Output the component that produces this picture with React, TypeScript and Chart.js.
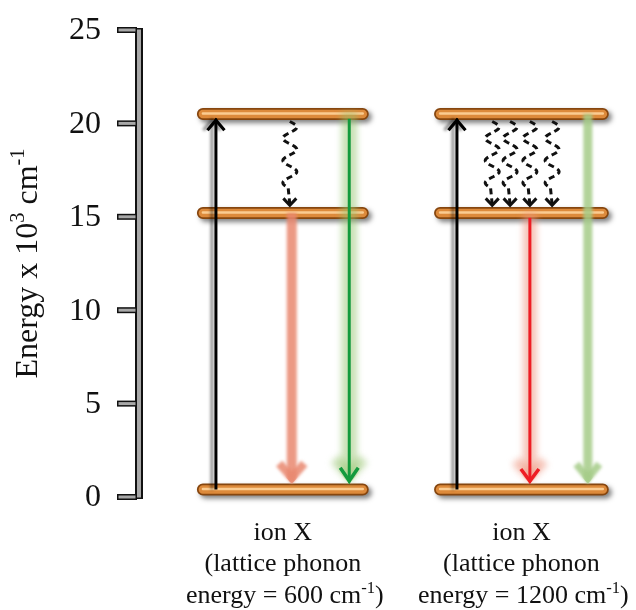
import React, { useEffect, useRef } from "react";
import { Chart, registerables } from "chart.js";

Chart.register(...registerables);

// ---------- data ----------
const energyTicks = [0, 5, 10, 15, 20, 25];
const levelEnergies = [0.4, 15.2, 20.5];
const panelStarts = [1.24, 6.15];
const panelEnds = [4.55, 9.52];
const excitationX = [1.51, 6.5];
const excitationRange = [0.4, 20.3];
const redX = [3.08, 8.01];
const redRange = [15.2, 0.7];
const greenX = [4.27, 9.21];
const greenRange = [20.5, 0.7];
const redBright = [false, true];
const greenBright = [true, false];
const phononX = [[3.04], [7.23, 7.6, 8.01, 8.47]];
const phononRange = [20.1, 15.45];
const ionLabel = "ion X";
const latticeLabel = "(lattice phonon";
const phononEnergies = ["600", "1200"];

const SERIF = '"Liberation Serif", "Times New Roman", serif';

type Part = { t: string; sup?: boolean };

function drawRich(ctx: CanvasRenderingContext2D, parts: Part[], x: number, y: number, size: number) {
  const supSize = size * 0.64;
  const widths = parts.map((p) => {
    ctx.font = `${p.sup ? supSize : size}px ${SERIF}`;
    return ctx.measureText(p.t).width;
  });
  const total = widths.reduce((a, b) => a + b, 0);
  let cx = x - total / 2;
  ctx.textAlign = "left";
  ctx.textBaseline = "alphabetic";
  parts.forEach((p, i) => {
    ctx.font = `${p.sup ? supSize : size}px ${SERIF}`;
    ctx.fillText(p.t, cx, p.sup ? y - size * 0.4 : y);
    cx += widths[i];
  });
}

function levelData() {
  const pts: any[] = [];
  panelStarts.forEach((s, i) => {
    levelEnergies.forEach((e) => {
      pts.push({ x: s, y: e }, { x: panelEnds[i], y: e }, { x: panelEnds[i], y: null });
    });
  });
  return pts;
}

function arrow(x: number, range: number[], opts: any) {
  return {
    type: "line",
    data: [
      { x, y: range[0] },
      { x, y: range[1] },
    ],
    pointRadius: 0,
    pointHitRadius: 0,
    borderCapStyle: "butt",
    clip: false,
    ...opts,
  };
}

const fxPlugin = {
  id: "fx",
  beforeDatasetDraw(chart: any, args: any) {
    const ds = chart.data.datasets[args.index];
    const ctx: CanvasRenderingContext2D = chart.ctx;
    ctx.save();
    if (ds.fxShadow) {
      ctx.shadowColor = ds.fxShadow.color;
      ctx.shadowBlur = ds.fxShadow.blur;
      ctx.shadowOffsetX = ds.fxShadow.dx;
      ctx.shadowOffsetY = ds.fxShadow.dy;
    }
    if (ds.fxBlur) ctx.filter = `blur(${ds.fxBlur}px)`;
    if (ds.fxShiftY) ctx.translate(0, ds.fxShiftY);
    ctx.save();
    if (ds.fxHead) {
      const pts = args.meta.data;
      const a = pts[0];
      const b = pts[pts.length - 1];
      const dx = b.x - a.x;
      const dy = b.y - a.y;
      const len = Math.hypot(dx, dy) || 1;
      const ux = dx / len, uy = dy / len;
      const nx = -uy, ny = ux;
      const t = (ds.fxHead.w / 2) / ds.fxHead.h;
      const L = 3000;
      ctx.beginPath();
      ctx.moveTo(b.x, b.y);
      ctx.lineTo(b.x - ux * L + nx * L * t, b.y - uy * L + ny * L * t);
      ctx.lineTo(b.x - ux * L - nx * L * t, b.y - uy * L - ny * L * t);
      ctx.closePath();
      ctx.clip();
    }
  },
  afterDatasetDraw(chart: any, args: any) {
    const ds = chart.data.datasets[args.index];
    const ctx: CanvasRenderingContext2D = chart.ctx;
    ctx.restore();
    if (ds.fxHead) {
      const pts = args.meta.data;
      const a = pts[0];
      const b = pts[pts.length - 1];
      const dx = b.x - a.x;
      const dy = b.y - a.y;
      const len = Math.hypot(dx, dy) || 1;
      const ux = dx / len, uy = dy / len;
      const nx = -uy, ny = ux;
      const { w, h, lw } = ds.fxHead;
      const half = Math.atan2(w / 2, h);
      const back = lw / 2 / Math.sin(half);
      const vx = b.x - ux * back, vy = b.y - uy * back;
      ctx.beginPath();
      ctx.moveTo(vx - ux * h + nx * (w / 2), vy - uy * h + ny * (w / 2));
      ctx.lineTo(vx, vy);
      ctx.lineTo(vx - ux * h - nx * (w / 2), vy - uy * h - ny * (w / 2));
      ctx.strokeStyle = ds.borderColor;
      ctx.lineWidth = lw;
      ctx.lineJoin = "miter";
      ctx.lineCap = "butt";
      ctx.stroke();
    }
    ctx.restore();
  },
  afterDatasetsDraw(chart: any) {
    const ctx: CanvasRenderingContext2D = chart.ctx;
    const xs = chart.scales.x;
    const ys = chart.scales.y;
    ctx.save();
    ctx.strokeStyle = "#111";
    ctx.lineWidth = 3;
    phononX.forEach((col) =>
      col.forEach((v) => {
        const px = xs.getPixelForValue(v);
        const y0 = ys.getPixelForValue(phononRange[0]);
        const y1 = ys.getPixelForValue(phononRange[1]);
        const waveEnd = y1 - 20;
        const period = (waveEnd - y0) / 3;
        ctx.setLineDash([6, 4]);
        ctx.lineCap = "butt";
        ctx.beginPath();
        for (let yy = y0; yy <= waveEnd; yy += 1) {
          const xx = px + 7 * Math.sin(((yy - y0) / period) * 2 * Math.PI);
          if (yy === y0) ctx.moveTo(xx, yy);
          else ctx.lineTo(xx, yy);
        }
        ctx.lineTo(px, y1 - 4);
        ctx.stroke();
        ctx.setLineDash([]);
        ctx.lineJoin = "miter";
        ctx.beginPath();
        ctx.moveTo(px - 6.5, y1 - 10);
        ctx.lineTo(px, y1 - 3);
        ctx.lineTo(px + 6.5, y1 - 10);
        ctx.stroke();
      })
    );
    ctx.restore();
  },
  afterDraw(chart: any) {
    const ctx: CanvasRenderingContext2D = chart.ctx;
    const ys = chart.scales.y;
    const xs = chart.scales.x;
    const left = chart.chartArea.left;
    const top = ys.getPixelForValue(energyTicks[energyTicks.length - 1]);
    const bot = ys.getPixelForValue(energyTicks[0]);
    ctx.save();
    // axis (double line)
    ctx.fillStyle = "#111";
    energyTicks.forEach((t) => {
      const py = ys.getPixelForValue(t);
      ctx.fillRect(left - 26, py - 3, 20, 6);
    });
    ctx.fillRect(left - 8, top - 2, 8, bot - top + 4);
    ctx.fillStyle = "#a8a8a8";
    energyTicks.forEach((t) => {
      const py = ys.getPixelForValue(t);
      ctx.fillRect(left - 24.5, py - 1.5, 17, 3);
    });
    ctx.fillRect(left - 6, top - 0.5, 4, bot - top + 1);
    // tick labels
    ctx.fillStyle = "#111";
    ctx.font = `32px ${SERIF}`;
    ctx.textAlign = "right";
    ctx.textBaseline = "middle";
    energyTicks.forEach((t) => {
      ctx.fillText(String(t), left - 42, ys.getPixelForValue(t) + 1);
    });
    // y title
    ctx.save();
    ctx.translate(37, (top + bot) / 2);
    ctx.rotate(-Math.PI / 2);
    drawRich(
      ctx,
      [{ t: "Energy x 10" }, { t: "3", sup: true }, { t: " cm" }, { t: "-1", sup: true }],
      0,
      0,
      32
    );
    ctx.restore();
    // panel labels
    panelStarts.forEach((s, i) => {
      const cx = xs.getPixelForValue((s + panelEnds[i]) / 2);
      drawRich(ctx, [{ t: ionLabel }], cx, bot + 43, 26);
      drawRich(ctx, [{ t: latticeLabel }], cx, bot + 74, 26);
      drawRich(
        ctx,
        [{ t: `energy = ${phononEnergies[i]} cm` }, { t: "-1", sup: true }, { t: ")" }],
        cx + 2,
        bot + 106,
        26
      );
    });
    ctx.restore();
  },
};

export default function App() {
  const ref = useRef<HTMLCanvasElement | null>(null);
  useEffect(() => {
    if (!ref.current) return;
    const levels = levelData();
    const datasets: any[] = [
      {
        data: levels,
        borderColor: "#86460f",
        borderWidth: 12,
        borderCapStyle: "round",
        order: 30,
        fxShadow: { color: "rgba(0,0,0,0.5)", blur: 5, dx: 3, dy: 3 },
      },
      { data: levels, borderColor: "#dd8a3b", borderWidth: 8.5, borderCapStyle: "round", order: 29 },
      {
        data: levels,
        borderColor: "rgba(252,208,150,0.95)",
        borderWidth: 2.5,
        borderCapStyle: "round",
        order: 28,
        fxShiftY: -0.5,
        fxBlur: 0.6,
      },
    ].map((d) => ({ ...d, pointRadius: 0, pointHitRadius: 0, spanGaps: false, clip: false }));

    panelStarts.forEach((_, i) => {
      // excitation
      datasets.push(
        arrow(excitationX[i], excitationRange, {
          borderColor: "#000",
          borderWidth: 3,
          order: 1,
          fxShadow: { color: "rgba(0,0,0,0.45)", blur: 3, dx: -4, dy: 0 },
          fxHead: { w: 17, h: 10, lw: 3.2 },
        })
      );
      // red emission
      if (redBright[i]) {
        datasets.push(
          arrow(redX[i], redRange, {
            borderColor: "rgba(238,150,128,0.55)",
            borderWidth: 14,
            order: 5,
            fxBlur: 3,
            fxHead: { w: 28, h: 15, lw: 11 },
          }),
          arrow(redX[i], [redRange[0] - 0.25, redRange[1]], {
            borderColor: "#ee1d24",
            borderWidth: 3,
            order: 4,
            fxHead: { w: 18, h: 12, lw: 3.5 },
          })
        );
      } else {
        datasets.push(
          arrow(redX[i], redRange, {
            borderColor: "rgba(233,135,110,0.85)",
            borderWidth: 10,
            order: 5,
            fxBlur: 1.8,
            fxHead: { w: 25, h: 14, lw: 8.5 },
          })
        );
      }
      // green emission
      if (greenBright[i]) {
        datasets.push(
          arrow(greenX[i], [greenRange[0] + 0.1, greenRange[1]], {
            borderColor: "rgba(150,195,110,0.5)",
            borderWidth: 16,
            order: 5,
            fxBlur: 3,
            fxHead: { w: 28, h: 16, lw: 12 },
          }),
          arrow(greenX[i], [greenRange[0] - 0.25, greenRange[1]], {
            borderColor: "#149a3d",
            borderWidth: 3,
            order: 4,
            fxHead: { w: 18, h: 13, lw: 3.5 },
          })
        );
      } else {
        datasets.push(
          arrow(greenX[i], greenRange, {
            borderColor: "rgba(165,203,135,0.85)",
            borderWidth: 9,
            order: 5,
            fxBlur: 1.8,
            fxHead: { w: 23, h: 14, lw: 7.5 },
          })
        );
      }
    });

    const chart = new Chart(ref.current, {
      type: "line",
      data: { datasets },
      options: {
        animation: false,
        responsive: false,
        events: [],
        layout: { padding: { left: 143, right: 10, top: 30, bottom: 113 } },
        scales: {
          x: { type: "linear", min: 0, max: 10, display: false },
          y: { type: "linear", min: 0, max: 25, display: false, ticks: { stepSize: 5 } },
        },
        plugins: { legend: { display: false }, tooltip: { enabled: false } },
      },
      plugins: [fxPlugin],
    } as any);
    return () => chart.destroy();
  }, []);

  return (
    <div style={{ position: "absolute", left: 0, top: 0, width: 636, height: 610, background: "#fff" }}>
      <canvas ref={ref} width={636} height={610} style={{ width: 636, height: 610 }} />
    </div>
  );
}
